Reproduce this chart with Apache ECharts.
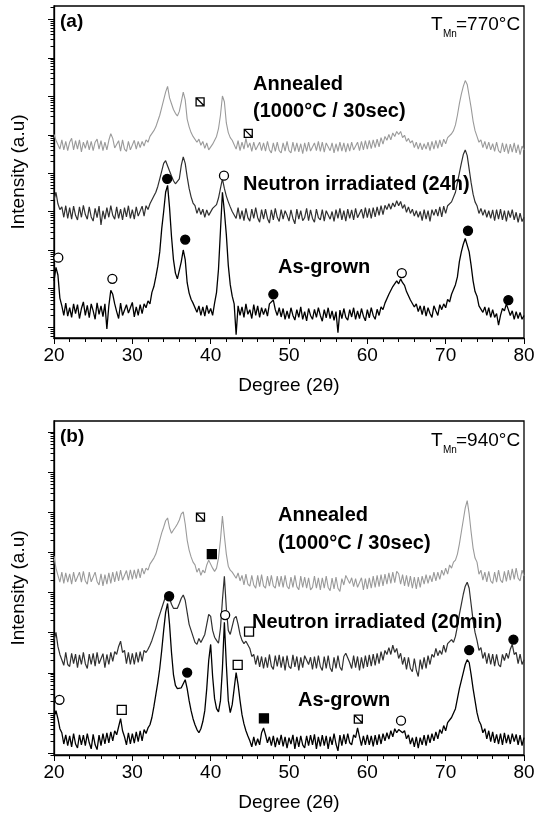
<!DOCTYPE html>
<html><head><meta charset="utf-8">
<script src="https://cdn.jsdelivr.net/npm/echarts@6/dist/echarts.min.js"></script>
<style>html,body{margin:0;padding:0;background:#fff}#c{width:538px;height:814px}</style>
</head><body><div id="c"></div><script>
// 2θ sampling of the traces (degrees)
const angleStart = 20, angleStep = 0.25;
// log10 intensity (offset, a.u.) — panel (a) T_Mn = 770 °C
const asGrownA = [
2.2,2.55,2.35,1.75, 1.55,1.3,1.62,1.28, 1.5,1.25,1.6,1.35, 1.58,1.22,1.48,1.65,
1.3,1.56,1.24,1.6, 1.42,1.2,1.63,1.33, 1.55,1.27,1.6,0.95, 1.55,1.95,1.85,1.6,
1.4,1.22,1.62,1.3, 1.25,1.58,1.36,1.5, 1.64,1.26,1.52,1.3, 1.58,1.35,1.6,1.5,
1.68,1.6,1.9,2.05, 2.3,2.58,2.95,3.55, 4.0,4.5,4.68,4.1, 3.35,2.75,2.4,2.25,
2.3,2.7,3.0,2.75, 2.15,1.88,1.72,1.62, 1.6,1.38,1.55,1.3, 1.52,1.28,1.56,1.35,
1.48,1.3,1.62,1.9, 2.5,3.5,4.5,4.0, 3.4,2.6,2.1,1.8, 1.6,0.8,1.55,1.3,
1.52,1.25,1.6,1.33, 1.45,1.22,1.58,1.3, 1.55,1.25,1.5,1.32, 1.48,1.28,1.6,1.55,
1.7,1.45,1.3,1.5, 1.26,1.48,1.2,1.42, 1.22,1.5,1.3,1.18, 1.45,1.25,1.52,1.2,
1.4,1.16,1.48,1.3, 1.2,1.46,1.25,1.5, 1.3,1.15,1.45,1.24, 1.5,1.22,1.42,1.17,
1.4,0.85,1.44,1.22, 1.48,1.25,1.18,1.45, 1.26,1.5,1.2,1.42, 1.22,1.48,1.28,1.16,
1.45,1.24,1.5,1.3, 1.2,1.46,1.3,1.52, 1.45,1.62,1.6,1.85, 1.85,2.05,2.05,2.2,
2.12,2.25,2.15,2.08, 1.92,1.88,1.7,1.72, 1.52,1.6,1.4,1.55, 1.32,1.55,1.28,1.5,
1.35,1.25,1.55,1.42, 1.3,1.58,1.45,1.6, 1.5,1.72,1.65,1.85, 1.8,2.1,2.3,2.7,
2.95,3.15,3.3,3.25, 2.95,2.6,2.2,1.92, 1.8,1.55,1.6,1.38, 1.52,1.3,1.5,1.25,
1.45,1.25,1.35,1.05, 1.3,1.48,1.42,1.6, 1.45,1.3,1.42,1.2, 1.4,1.22,1.38,1.2,
1.3];
const neutronA = [
4.3,4.5,4.2,4.05, 4.12,3.85,4.15,3.82, 4.1,3.8,4.14,3.9, 3.78,4.12,3.85,4.16,
3.92,3.8,4.12,3.86, 3.75,4.08,3.84,4.14, 3.65,4.02,3.8,4.1, 3.85,4.15,3.9,3.8,
4.12,3.82,4.06,3.78, 4.1,3.86,4.15,3.82, 4.05,3.8,4.12,3.88, 3.9,4.14,3.88,4.15,
4.05,4.2,4.22,4.4, 4.5,4.65,4.85,5.05, 5.25,5.32,5.3,5.05, 4.92,4.8,4.72,4.7,
4.85,5.2,5.42,5.25, 4.9,4.6,4.38,4.22, 4.15,3.95,4.1,3.92, 4.06,3.85,4.04,3.9,
3.85,4.08,4.05,4.18, 4.35,4.6,4.85,4.6, 4.4,4.25,4.12,4.0, 4.05,3.82,4.1,3.8,
4.02,3.76,4.08,3.84, 3.75,4.06,3.82,4.1, 3.84,3.72,4.05,3.8, 4.06,3.82,3.7,4.04,
3.78,4.08,3.85,3.74, 4.05,3.8,4.02,3.9, 3.75,4.04,3.82,3.68, 4.06,3.8,4.02,3.76,
3.84,4.08,3.76,4.04, 3.82,3.72,4.06,3.84, 3.78,4.05,3.75,4.02, 4.07,3.8,4.0,3.74,
4.05,3.82,4.08,3.78, 4.02,3.75,4.06,3.82, 4.04,3.78,4.08,3.84, 3.8,4.06,3.82,4.1,
3.84,4.08,3.82,4.1, 3.86,4.12,3.9,4.15, 3.92,4.16,4.05,4.2, 4.06,4.22,4.12,4.28,
4.15,4.26,4.08,4.18, 3.98,4.12,3.95,4.06, 3.88,4.02,3.85,4.0, 3.76,4.05,3.8,4.02,
3.74,4.05,3.9,4.06, 3.88,4.12,3.86,4.14, 3.95,4.15,4.1,4.25, 4.3,4.5,4.75,5.0,
5.25,5.48,5.6,5.45, 5.1,4.75,4.45,4.25, 4.15,3.95,4.08,3.9, 4.05,3.85,4.02,3.82,
4.04,3.76,4.05,3.8, 4.06,3.78,4.02,3.74, 4.02,3.84,4.05,3.78, 3.98,3.72,3.96,3.74,
3.85];
const annealedA = [
6.0,5.85,5.8,5.62, 5.86,5.6,5.82,5.58, 5.8,5.9,5.6,5.84, 5.62,5.86,5.55,5.8,
5.64,5.85,5.6,5.82, 5.58,5.8,5.88,5.62, 5.84,5.58,5.8,5.6, 5.85,6.02,5.9,5.65,
5.6,5.84,5.57,5.86, 5.62,5.56,5.82,5.6, 5.58,5.85,5.62,5.82, 5.66,5.82,5.7,5.86,
5.8,5.95,6.0,6.1, 6.2,6.35,6.5,6.7, 6.9,7.1,7.25,6.95, 6.8,6.65,6.55,6.48,
6.6,6.85,7.1,6.9, 6.4,6.2,6.05,5.95, 5.92,5.8,5.88,5.72, 5.82,5.64,5.78,5.6,
5.58,5.75,5.8,5.95, 6.15,6.5,7.0,6.85, 6.3,6.05,5.92,5.85, 5.82,5.62,5.84,5.58,
5.8,5.62,5.9,5.66, 5.78,5.56,5.8,5.6, 5.55,5.8,5.58,5.78, 5.57,5.82,5.6,5.52,
5.78,5.56,5.8,5.58, 5.52,5.78,5.57,5.82, 5.58,5.52,5.8,5.56, 5.78,5.55,5.76,5.5,
5.78,5.56,5.8,5.57, 5.54,5.78,5.58,5.82, 5.56,5.8,5.54,5.78, 5.82,5.58,5.78,5.52,
5.76,5.56,5.8,5.57, 5.78,5.54,5.77,5.57, 5.8,5.6,5.56,5.8, 5.58,5.82,5.6,5.84,
5.62,5.85,5.63,5.86, 5.66,5.88,5.68,5.92, 5.75,5.95,5.85,6.0, 5.86,6.04,5.95,6.08,
6.0,6.08,5.92,5.98, 5.82,5.9,5.78,5.84, 5.66,5.8,5.62,5.78, 5.6,5.76,5.62,5.8,
5.58,5.82,5.62,5.85, 5.64,5.86,5.68,5.88, 5.76,5.92,5.88,6.02, 6.1,6.25,6.5,6.8,
7.05,7.25,7.4,7.3, 7.0,6.7,6.35,6.1, 5.95,5.8,5.86,5.66, 5.82,5.62,5.8,5.6,
5.76,5.56,5.8,5.58, 5.52,5.78,5.55,5.76, 5.5,5.75,5.54,5.78, 5.52,5.74,5.48,5.7,
5.6];
// panel (b) T_Mn = 940 °C
const asGrownB = [
1.9,2.05,1.85,1.6, 1.5,1.22,1.45,1.18, 1.42,1.15,1.48,1.22, 1.12,1.45,1.2,1.44,
1.18,1.48,1.25,1.1, 1.46,1.2,1.08,1.44, 1.18,1.48,1.22,1.5, 1.25,1.52,1.3,1.55,
1.45,1.65,1.85,1.55, 1.4,1.2,1.5,1.22, 1.48,1.24,1.52,1.28, 1.55,1.3,1.58,1.48,
1.62,1.7,1.88,2.15, 2.45,2.75,3.1,3.55, 4.05,4.5,4.72,4.2, 3.5,2.95,2.68,2.6,
2.57,2.62,2.72,2.82, 2.6,2.3,2.05,1.85, 1.7,1.58,1.5,1.6, 1.78,2.05,2.6,3.3,
3.7,2.9,2.35,2.1, 2.02,2.3,3.1,4.25, 3.2,2.3,2.0,2.2, 2.6,3.0,2.7,2.3,
1.95,1.72,1.55,1.42, 1.3,1.15,1.4,1.18, 1.35,1.2,1.5,1.62, 1.45,1.25,1.4,1.18,
1.42,1.14,1.38,1.2, 1.45,1.16,1.4,1.12, 1.38,1.22,1.45,1.1, 1.4,1.15,1.42,1.2,
1.12,1.42,1.18,1.44, 1.2,1.46,1.1,1.4, 1.16,1.44,1.18,1.42, 1.1,1.4,1.2,1.48,
1.22,1.05,1.44,1.18, 1.46,1.22,1.48,1.25, 1.2,1.45,1.38,1.62, 1.4,1.18,1.42,1.2,
1.45,1.2,1.42,1.16, 1.44,1.2,1.46,1.22, 1.48,1.3,1.5,1.34, 1.55,1.4,1.6,1.5,
1.58,1.62,1.5,1.55, 1.35,1.45,1.22,1.38, 1.15,1.4,1.12,1.38, 1.2,1.44,1.18,1.45,
1.25,1.48,1.3,1.52, 1.35,1.58,1.48,1.68, 1.55,1.75,1.72,1.88, 1.92,2.1,2.35,2.6,
2.8,3.0,3.2,3.32, 3.25,2.95,2.6,2.3, 2.0,1.8,1.7,1.5, 1.6,1.35,1.55,1.28,
1.52,1.25,1.46,1.22, 1.48,1.2,1.5,1.24, 1.45,1.22,1.48,1.28, 1.46,1.2,1.44,1.18,
1.38];
const neutronB = [
3.8,4.0,3.65,3.45, 3.45,3.18,3.5,3.2, 3.15,3.48,3.22,3.46, 3.12,3.44,3.2,3.5,
3.22,3.1,3.46,3.2, 3.48,3.16,3.5,3.22, 3.2,3.47,3.12,3.45, 3.2,3.5,3.28,3.52,
3.45,3.65,3.78,3.5, 3.55,3.22,3.5,3.2, 3.48,3.2,3.5,3.25, 3.52,3.28,3.55,3.5,
3.58,3.68,3.8,3.95, 4.1,4.3,4.45,4.6, 4.75,4.9,5.0,4.85, 4.7,4.6,4.56,4.6,
4.72,4.85,4.93,4.8, 4.5,4.2,4.05,3.9, 3.75,3.7,3.85,3.75, 3.72,3.95,4.2,4.45,
4.4,4.05,3.88,3.8, 3.73,4.1,4.8,5.4, 4.6,4.05,3.95,4.15, 4.35,4.4,4.2,3.95,
3.8,3.72,3.78,3.75, 3.6,3.4,3.45,3.2, 3.42,3.14,3.4,3.1, 3.38,3.12,3.45,3.16,
3.08,3.42,3.15,3.44, 3.12,3.4,3.05,3.42, 3.15,3.1,3.44,3.14, 3.4,3.05,3.38,3.12,
3.42,3.46,3.2,3.38, 3.08,3.4,3.1,3.42, 3.15,3.05,3.4,3.1, 3.42,3.12,3.02,3.38,
3.1,3.42,3.14,3.05, 3.4,3.48,3.5,3.25, 3.1,3.42,3.12,3.4, 3.05,3.38,3.1,3.42,
3.14,3.44,3.16,3.46, 3.18,3.48,3.22,3.52, 3.3,3.55,3.45,3.62, 3.45,3.68,3.5,3.6,
3.35,3.48,3.2,3.38, 3.08,3.38,3.1,3.02, 3.35,3.06,2.9,3.32, 3.08,3.38,3.1,3.42,
3.2,3.45,3.38,3.6, 3.42,3.55,3.45,3.68, 3.5,3.72,3.7,3.82, 3.75,3.9,4.15,4.45,
4.7,4.95,5.15,5.25, 5.1,4.7,4.3,4.0, 3.8,3.55,3.62,3.35, 3.5,3.22,3.48,3.2,
3.46,3.16,3.45,3.2, 3.14,3.45,3.3,3.48, 3.35,3.58,3.7,3.45, 3.5,3.22,3.46,3.2,
3.32];
const annealedB = [
5.9,5.6,5.42,5.25, 5.5,5.22,5.48,5.25, 5.46,5.2,5.5,5.26, 5.22,5.5,5.25,5.52,
5.28,5.2,5.5,5.26, 5.22,5.5,5.27,5.18, 5.46,5.16,5.44,5.2, 5.48,5.22,5.5,5.26,
5.52,5.28,5.55,5.3, 5.26,5.54,5.3,5.56, 5.32,5.56,5.34,5.58, 5.36,5.6,5.45,5.6,
5.55,5.7,5.72,5.85, 5.95,6.12,6.3,6.48, 6.62,6.78,6.85,6.6, 6.47,6.55,6.62,6.7,
6.8,6.95,7.0,6.7, 6.3,6.05,5.88,5.75, 5.68,5.5,5.6,5.42, 5.55,5.48,5.68,5.8,
5.78,5.6,5.52,5.6, 5.85,6.3,6.9,6.4, 5.95,5.65,5.55,5.5, 5.52,5.35,5.48,5.28,
5.42,5.18,5.45,5.2, 5.15,5.42,5.18,5.1, 5.42,5.14,5.44,5.16, 5.1,5.4,5.15,5.42,
5.16,5.1,5.4,5.14, 5.4,5.12,5.42,5.15, 5.08,5.38,5.12,5.42, 5.14,5.06,5.4,5.12,
5.38,5.1,5.36,5.06, 5.12,5.4,5.1,5.36, 5.06,5.36,5.1,5.4, 5.12,5.04,5.35,5.08,
5.38,5.1,5.02,5.34, 5.18,5.42,5.45,5.22, 5.36,5.14,5.34,5.12, 5.08,5.36,5.06,5.34,
5.08,5.36,5.1,5.4, 5.12,5.42,5.14,5.44, 5.16,5.45,5.2,5.48, 5.22,5.5,5.24,5.52,
5.46,5.2,5.44,5.16, 5.42,5.14,5.4,5.1, 5.38,5.08,5.38,5.12, 5.4,5.2,5.44,5.22,
5.42,5.26,5.5,5.28, 5.5,5.32,5.55,5.42, 5.6,5.45,5.68,5.6, 5.75,5.8,5.95,6.2,
6.5,6.8,7.1,7.28, 6.95,6.5,6.1,5.85, 5.75,5.45,5.55,5.3, 5.5,5.26,5.52,5.28,
5.22,5.5,5.25,5.55, 5.3,5.24,5.52,5.27, 5.55,5.3,5.58,5.32, 5.6,5.35,5.28,5.55,
5.4];
// phase markers [2θ, log10 I]
const filledCircleA = [[34.45,4.85],[36.75,3.27],[48.0,1.85],[72.85,3.5],[78.0,1.7]];
const openCircleA = [[20.55,2.8],[27.45,2.25],[41.7,4.93],[64.4,2.4]];
const hatchedSquareA = [[38.65,6.85],[44.8,6.03]];
const filledCircleB = [[34.7,4.9],[37.0,3.0],[73.0,3.56],[78.65,3.82]];
const openCircleB = [[20.7,2.32],[41.85,4.43],[64.3,1.8]];
const openSquareB = [[28.65,2.07],[43.45,3.19],[44.9,4.02]];
const filledSquareB = [[40.15,5.95],[46.8,1.86]];
const hatchedSquareB = [[38.7,6.87],[58.85,1.84]];
// axis ticks
const xTicks = [20,30,40,50,60,70,80];
const majorDecades = [0,1,2,3,4,5,6,7,8,9,10];
const minorFactors = [2,3,4,5,6,7,8,9];

const FONT = '"Liberation Sans", Arial, Helvetica, sans-serif';
const pairs = vals => vals.map((v,i) => [angleStart + i*angleStep, v]);
function tickData(min, max){
  const out = [];
  majorDecades.forEach(d => {
    if (d >= min && d <= max) out.push([xTicks[0], d, 6]);
    minorFactors.forEach(k => { const v = d + Math.log10(k); if (v >= min && v <= max) out.push([xTicks[0], v, 3.5]); });
  });
  return out;
}
const yRange = [[0.714, 9.338],[0.946, 9.265]];
const hatchPath = 'path://M0,0L10,0L10,10L0,10ZM1,1L9,9';

function lineS(idx, data, color, w){
  return {type:'line', xAxisIndex:idx, yAxisIndex:idx, data:pairs(data), symbol:'none', showSymbol:false,
    lineStyle:{color:color, width:w}, animation:false, z:2};
}
function markS(idx, data, symbol, fill, size){
  return {type:'scatter', xAxisIndex:idx, yAxisIndex:idx, data:data, symbol:symbol, symbolSize:size,
    itemStyle:{color:fill, borderColor:'#000', borderWidth:1.3, opacity:1}, animation:false, z:5, silent:true};
}
function tickS(idx){
  return {type:'custom', xAxisIndex:idx, yAxisIndex:idx, clip:false, silent:true, animation:false, z:6,
    data: tickData(yRange[idx][0], yRange[idx][1]),
    renderItem:(p, api) => {
      const pt = api.coord([api.value(0), api.value(1)]);
      const len = api.value(2);
      const y = Math.round(pt[1]) + 0.5;
      return {type:'line', shape:{x1:pt[0]-len, y1:y, x2:pt[0], y2:y}, style:{stroke:'#000', lineWidth:1}};
    }};
}
function xAx(idx){
  return {gridIndex:idx, type:'value', min:xTicks[0], max:xTicks[xTicks.length-1], interval:10,
    name:'Degree (2\u03b8)', nameLocation:'middle', nameGap:38,
    nameTextStyle:{fontSize:19, fontFamily:FONT, color:'#000'},
    axisLine:{lineStyle:{color:'#000', width:1.3}},
    axisTick:{length:6, lineStyle:{color:'#000'}},
    minorTick:{show:true, splitNumber:5, length:4, lineStyle:{color:'#000'}},
    axisLabel:{fontSize:19, fontFamily:FONT, color:'#000', margin:8},
    splitLine:{show:false}, minorSplitLine:{show:false}};
}
function yAx(idx){
  return {gridIndex:idx, type:'value', min:yRange[idx][0], max:yRange[idx][1],
    name:'Intensity (a.u)', nameLocation:'middle', nameRotate:90, nameGap:26,
    nameTextStyle:{fontSize:19, fontFamily:FONT, color:'#000'},
    axisLine:{show:true, lineStyle:{color:'#000', width:1.3}},
    axisTick:{show:false}, axisLabel:{show:false}, splitLine:{show:false}};
}
function txt(x, y, text, size, bold){
  return {type:'text', x:x, y:y, z:10, silent:true,
    style:{text:text, fill:'#000', font:(bold?'bold ':'')+size+'px '+FONT, verticalAlign:'middle', align:'left'}};
}

const chart = echarts.init(document.getElementById('c'), null, {renderer:'canvas'});
chart.setOption({
  backgroundColor:'#fff',
  animation:false,
  grid:[
    {left:54, right:14, top:6, height:332, show:true, borderColor:'#000', borderWidth:1.3, backgroundColor:'transparent'},
    {left:54, right:14, top:421, height:334, show:true, borderColor:'#000', borderWidth:1.3, backgroundColor:'transparent'}
  ],
  xAxis:[xAx(0), xAx(1)],
  yAxis:[yAx(0), yAx(1)],
  series:[
    lineS(0, annealedA, '#9a9a9a', 1.1),
    lineS(0, neutronA, '#303030', 1.2),
    lineS(0, asGrownA, '#000', 1.3),
    markS(0, filledCircleA, 'circle', '#000', 9),
    markS(0, openCircleA, 'circle', '#fff', 9),
    markS(0, hatchedSquareA, hatchPath, '#fff', 8),
    tickS(0),
    lineS(1, annealedB, '#9a9a9a', 1.1),
    lineS(1, neutronB, '#303030', 1.2),
    lineS(1, asGrownB, '#000', 1.3),
    markS(1, filledCircleB, 'circle', '#000', 9),
    markS(1, openCircleB, 'circle', '#fff', 9),
    markS(1, openSquareB, 'rect', '#fff', 9),
    markS(1, filledSquareB, 'rect', '#000', 9),
    markS(1, hatchedSquareB, hatchPath, '#fff', 8),
    tickS(1)
  ],
  graphic:[
    txt(60, 22, '(a)', 19, true),
    txt(431, 25, 'T', 19, false), txt(443, 34, 'Mn', 10, false), txt(456, 25, '=770\u00b0C', 19, false),
    txt(253, 84, 'Annealed', 20, true),
    txt(253, 111, '(1000\u00b0C / 30sec)', 20, true),
    txt(243, 184, 'Neutron irradiated (24h)', 20, true),
    txt(278, 267, 'As-grown', 20, true),
    txt(60, 437, '(b)', 19, true),
    txt(431, 441, 'T', 19, false), txt(443, 450, 'Mn', 10, false), txt(456, 441, '=940\u00b0C', 19, false),
    txt(278, 515, 'Annealed', 20, true),
    txt(278, 543, '(1000\u00b0C / 30sec)', 20, true),
    txt(252, 622, 'Neutron irradiated (20min)', 20, true),
    txt(298, 700, 'As-grown', 20, true)
  ]
});
</script></body></html>
